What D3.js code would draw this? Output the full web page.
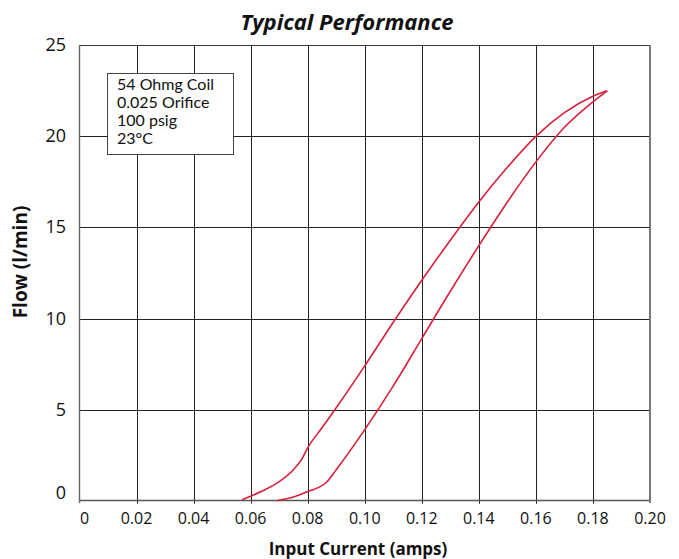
<!DOCTYPE html>
<html><head><meta charset="utf-8">
<script src="https://cdn.jsdelivr.net/npm/d3@7"></script>
<style>body{margin:0;background:#fff}svg{display:block}</style>
</head><body>
<script>
const xTicks = [0,0.02,0.04,0.06,0.08,0.10,0.12,0.14,0.16,0.18,0.20];
const xTickLabels = ["0","0.02","0.04","0.06","0.08","0.10","0.12","0.14","0.16","0.18","0.20"];
const yTicks = [0,5,10,15,20,25];
const legendLines = ["54 Ohmg Coil","0.025 Orifice","100 psig","23°C"];
const upperX = [0.057,0.060,0.065,0.070,0.075,0.078,0.080,0.085,0.090,0.100,0.110,0.120,0.130,0.140,0.150,0.160,0.170,0.180,0.185];
const upperY = [0.05,0.25,0.6,1.05,1.7,2.3,2.9,4.0,5.1,7.4,9.8,12.1,14.3,16.4,18.3,20.0,21.3,22.2,22.5];
const lowerX = [0.069,0.075,0.080,0.0865,0.090,0.100,0.110,0.120,0.130,0.140,0.150,0.160,0.170,0.180,0.185];
const lowerY = [0.0,0.2,0.5,1.0,1.7,3.9,6.3,8.9,11.5,14.0,16.4,18.6,20.5,21.9,22.5];

const W=679,H=559;
const svg=d3.select("body").append("svg").attr("width",W).attr("height",H);
const x=d3.scaleLinear().domain([0,0.20]).range([79.5,650]);
const y=d3.scaleLinear().domain([0,25]).range([500.7,45.3]);
const font="'Open Sans','Noto Sans',sans-serif";

// grid
const g=svg.append("g");
g.selectAll(".vg").data(xTicks.slice(1,-1)).join("line")
 .attr("x1",d=>Math.round(x(d))+0.5).attr("x2",d=>Math.round(x(d))+0.5)
 .attr("y1",y(25)).attr("y2",y(0)+3).attr("stroke","#222").attr("stroke-width",1);
g.selectAll(".hg").data(yTicks.slice(1,-1)).join("line")
 .attr("x1",x(0)).attr("x2",x(0.2))
 .attr("y1",d=>Math.round(y(d))+0.5).attr("y2",d=>Math.round(y(d))+0.5)
 .attr("stroke","#222").attr("stroke-width",1);
// border
g.append("line").attr("x1",x(0)).attr("x2",x(0.2)).attr("y1",45.5).attr("y2",45.5).attr("stroke","#333").attr("stroke-width",1.2);
g.append("line").attr("x1",x(0)).attr("x2",x(0.2)).attr("y1",500.5).attr("y2",500.5).attr("stroke","#555").attr("stroke-width",1.6);
g.append("line").attr("x1",79.5).attr("x2",79.5).attr("y1",45).attr("y2",503).attr("stroke","#666").attr("stroke-width",1.4);
g.append("line").attr("x1",650).attr("x2",650).attr("y1",45).attr("y2",503).attr("stroke","#777").attr("stroke-width",2);

// axes labels
svg.selectAll(".xl").data(xTicks).join("text")
 .attr("x",(d,i)=>i===0?x(d)+5:x(d)).attr("y",524)
 .attr("text-anchor","middle").attr("font-family",font).attr("font-size",16).attr("fill","#111")
 .text((d,i)=>xTickLabels[i]);
svg.selectAll(".yl").data(yTicks).join("text")
 .attr("x",66).attr("y",d=>y(d)+(d===0?-2:6))
 .attr("text-anchor","end").attr("font-family",font).attr("font-size",18).attr("fill","#111")
 .text(d=>d);

svg.append("text").attr("x",347).attr("y",30).attr("text-anchor","middle")
 .attr("font-family",font).attr("font-size",22).attr("font-weight","bold").attr("font-style","italic").attr("fill","#111")
 .text("Typical Performance");
svg.append("text").attr("x",358).attr("y",555).attr("text-anchor","middle")
 .attr("font-family",font).attr("font-size",17).attr("font-weight","bold").attr("fill","#111")
 .text("Input Current (amps)");
svg.append("text").attr("transform","translate(27,262) rotate(-90)").attr("text-anchor","middle")
 .attr("font-family",font).attr("font-size",19).attr("font-weight","bold").attr("fill","#111")
 .text("Flow (l/min)");

// curves
const line=d3.line().x(d=>x(d[0])).y(d=>y(d[1])).curve(d3.curveMonotoneX);
const up=upperX.map((v,i)=>[v,upperY[i]]);
const lo=lowerX.map((v,i)=>[v,lowerY[i]]);
svg.append("path").attr("d",line(up)).attr("fill","none").attr("stroke","#d8203a").attr("stroke-width",1.6);
svg.append("path").attr("d",line(lo)).attr("fill","none").attr("stroke","#d8203a").attr("stroke-width",1.6);

// legend box
svg.append("rect").attr("x",107.5).attr("y",73.5).attr("width",126).attr("height",81)
 .attr("fill","#fff").attr("stroke","#444").attr("stroke-width",1);
svg.selectAll(".lg").data(legendLines).join("text")
 .attr("x",117).attr("y",(d,i)=>90+i*18)
 .attr("font-family","Lato,'Open Sans',sans-serif").attr("font-size",16).attr("fill","#111").text(d=>d);
</script>
</body></html>
